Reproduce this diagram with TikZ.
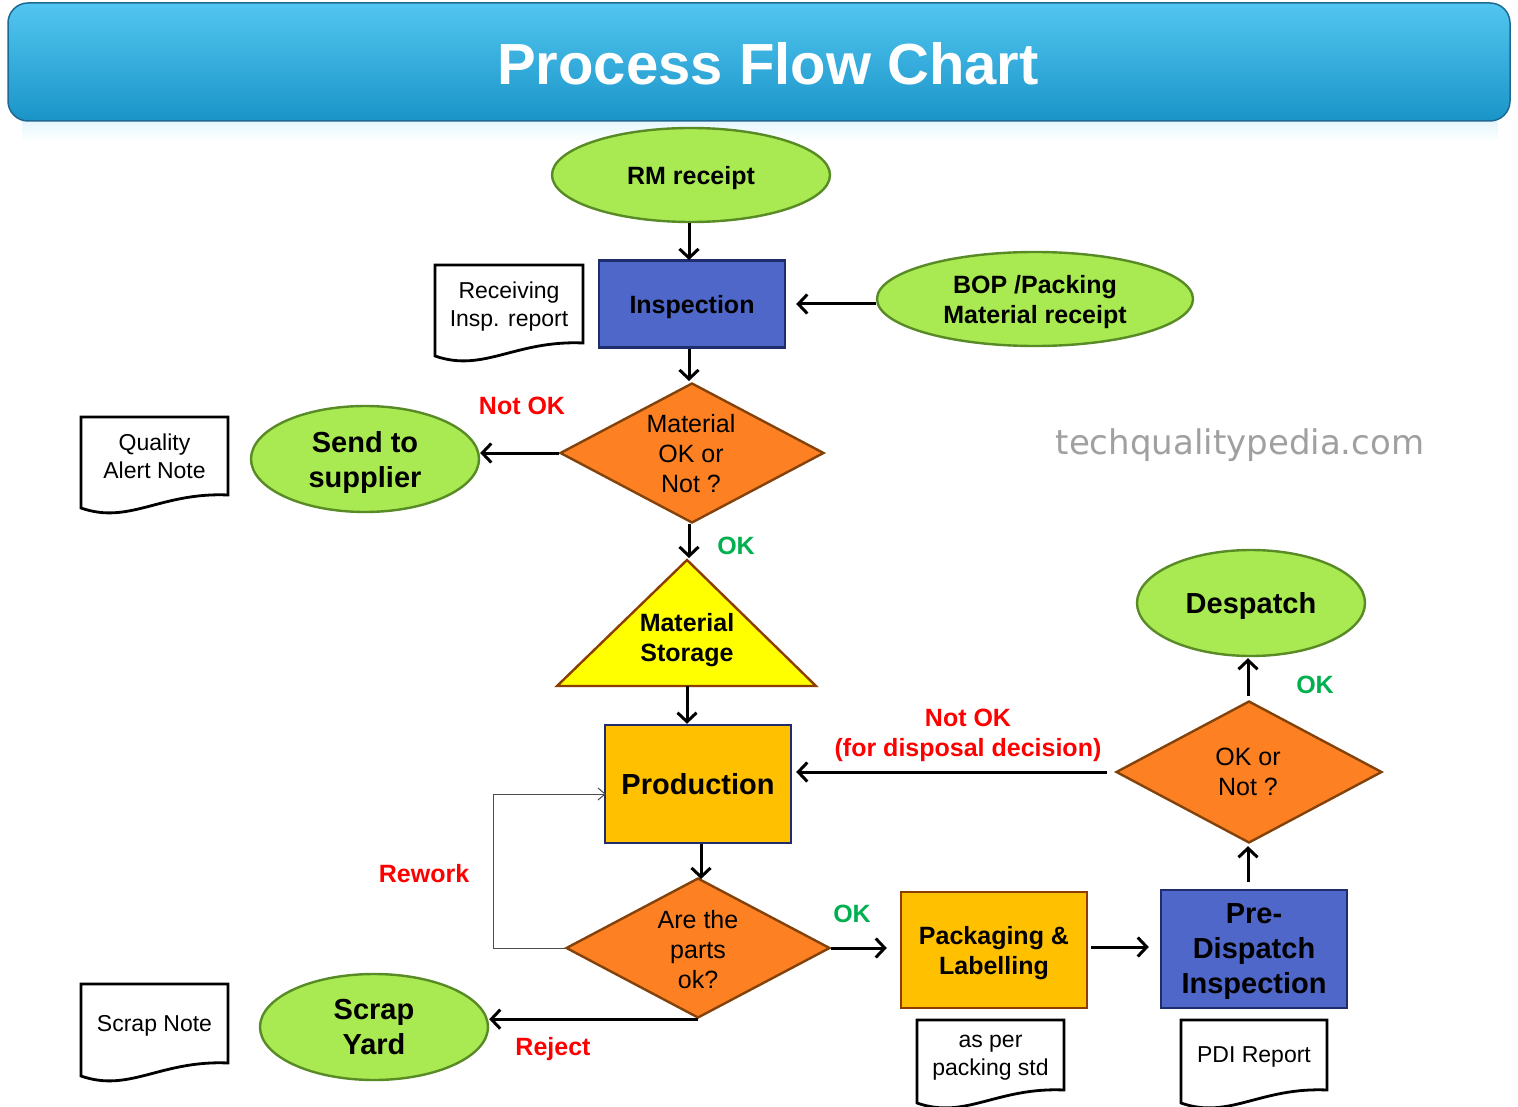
\documentclass[tikz,border=0pt]{standalone}
\usepackage{fontspec}
\setmainfont{Liberation Sans}
\newfontfamily\wmfont{DejaVu Sans}
\usetikzlibrary{shapes.geometric,arrows.meta,calc}
\definecolor{termfill}{RGB}{169,234,82}
\definecolor{termline}{RGB}{88,138,38}
\definecolor{bluefill}{RGB}{79,103,200}
\definecolor{navyline}{RGB}{31,44,110}
\definecolor{orfill}{RGB}{253,128,35}
\definecolor{orline}{RGB}{130,66,10}
\definecolor{goldfill}{RGB}{255,192,0}
\definecolor{brownline}{RGB}{140,62,0}
\definecolor{yelfill}{RGB}{255,255,0}
\definecolor{redtxt}{RGB}{255,0,0}
\definecolor{greentxt}{RGB}{0,176,80}
\definecolor{wmgray}{RGB}{160,160,160}
\definecolor{hdtop}{RGB}{82,198,240}
\definecolor{hdbot}{RGB}{26,148,200}
\definecolor{hdline}{RGB}{30,105,145}
\newcommand\fcdoc[6]{%
  \draw[docline] (#2,#3) -- (#4,#3) -- (#4,#5)
    .. controls ({#2+0.54*(#4-#2)},{#5-3}) and ({#2+0.33*(#4-#2)},{#5+30}) .. (#2,{#5+13}) -- cycle;
  \node[doctext] (#1) at ({(#2+#4)/2},{(#3+#5)/2}) {#6};
}
\begin{document}
\begin{tikzpicture}[x=1pt,y=-1pt,
  fA/.style={font=\fontsize{25}{30}\selectfont\bfseries, text depth=0pt},
  fB/.style={font=\fontsize{29}{35}\selectfont\bfseries, text depth=0pt},
  fR/.style={font=\fontsize{25}{30}\selectfont, text depth=0pt},
  term/.style={ellipse, draw=termline, fill=termfill, line width=2.4pt, inner sep=0pt, align=center},
  bluebox/.style={rectangle, draw=navyline, fill=bluefill, line width=2.4pt, inner sep=0pt, align=center},
  goldbox/.style={rectangle, draw=navyline, fill=goldfill, line width=2.4pt, inner sep=0pt, align=center},
  decision/.style={diamond, draw=orline, fill=orfill, line width=2.4pt, inner sep=0pt, minimum width=264pt, minimum height=140pt},
  doctext/.style={font=\fontsize{23}{28}\selectfont, align=center, inner sep=0pt, text depth=0pt},
  docline/.style={draw=black, line width=2.8pt, fill=white, line join=miter},
  flow/.style={draw=black, line width=3pt, -{Straight Barb[length=9pt,width=19pt]}},
  thinflow/.style={draw=black!70, line width=1pt, -{Straight Barb[length=7pt,width=12pt]}},
  redlbl/.style={font=\fontsize{25}{30}\selectfont\bfseries, text=redtxt, align=center, inner sep=0pt, text depth=0pt},
  grnlbl/.style={font=\fontsize{25}{30}\selectfont\bfseries, text=greentxt, inner sep=0pt, text depth=0pt}
]
\useasboundingbox (0,0) rectangle (1518,1107);
\fill[white] (0,0) rectangle (1518,1107);

% header
\shade[top color=hdtop!14, bottom color=white] (22,122) rectangle (1498,142);
\shade[draw=hdline, line width=1.5pt, rounded corners=20pt, top color=hdtop, bottom color=hdbot]
  (8,3) rectangle (1510,121);
\node[font=\fontsize{58}{60}\selectfont\bfseries, text=white, inner sep=0pt] (title) at (768,64) {Process Flow Chart};

% watermark
\node[font=\wmfont\fontsize{34}{40}\selectfont, text=wmgray, inner sep=0pt, text depth=0pt] (wm) at (1240,442) {techqualitypedia.com};

% terminals
\node[term, fA, minimum width=278pt, minimum height=94pt] (rm) at (691,175) {RM receipt};
\node[term, fA, minimum width=316pt, minimum height=94pt] (bop) at (1035,299) {BOP /Packing\\Material receipt};
\node[term, fB, minimum width=228pt, minimum height=106pt] (send) at (365,459) {Send to\\supplier};
\node[term, fB, minimum width=228pt, minimum height=106pt] (scrap) at (374,1027) {Scrap\\Yard};
\node[term, fB, minimum width=228pt, minimum height=106pt] (desp) at (1251,603) {Despatch};

% process boxes
\node[bluebox, fA, minimum width=186pt, minimum height=87pt] (insp) at (692,304) {Inspection};
\node[goldbox, fB, minimum width=186pt, minimum height=118pt] (prod) at (698,784) {Production};
\node[goldbox, draw=brownline, fA, minimum width=186pt, minimum height=116pt] (pack) at (994,950) {Packaging \&\\Labelling};
\node[bluebox, fB, minimum width=186pt, minimum height=118pt] (pdi) at (1254,949) {Pre-\\Dispatch\\Inspection};

% decisions
\node[decision] (d1) at (692,453) {};
\node[fR, align=center, inner sep=0pt] (d1t) at (691,453) {Material\\OK or\\Not ?};
\node[decision] (d2) at (698,948) {};
\node[fR, align=center, inner sep=0pt] (d2t) at (698,949) {Are the\\parts\\ok?};
\node[decision, minimum width=266pt, minimum height=142pt] (d3) at (1249,772) {};
\node[fR, align=center, inner sep=0pt] (d3t) at (1248,772) {OK or\\Not ?};

% storage triangle
\coordinate (stTop) at (687,560);
\coordinate (stBot) at (687,686);
\draw[draw=brownline, fill=yelfill, line width=2.4pt, line join=miter] (stTop) -- (816,686) -- (557,686) -- cycle;
\node[fA, align=center, inner sep=0pt] (st) at (687,637) {Material\\Storage};

% documents
\fcdoc{rir}{435}{265}{583}{343}{Receiving\\Insp. report}
\fcdoc{qan}{81}{417}{228}{495}{Quality\\Alert Note}
\fcdoc{sn}{81}{984}{228}{1063}{Scrap Note}
\fcdoc{aps}{917}{1020}{1064}{1090}{as per\\packing std}
\fcdoc{pdir}{1181}{1020}{1327}{1090}{PDI Report}

% connectors
\draw[flow] (rm.south -| 689,0) -- (689,260);
\draw[flow] (bop.west |- 0,304) -- ([xshift=10pt]insp.east);
\draw[flow] (insp.south -| 689,0) -- (689,381);
\draw[flow] (d1.west) -- (send.east |- d1.west);
\draw[flow] (d1.south -| 689,0) -- (689,558);
\draw[flow] (stBot) -- (prod.north -| stBot);
\draw[flow] (prod.south -| 701,0) -- (701,879);
\draw[flow, shorten >=13pt] (d2.east) -- (pack.west |- d2.east);
\draw[flow, shorten <=3pt, shorten >=11pt] (pack.east |- 0,947) -- (pdi.west |- 0,947);
\draw[flow, shorten <=7pt, shorten >=2pt] (pdi.north -| 1248,0) -- (d3.south -| 1248,0);
\draw[flow, shorten <=4pt, shorten >=1pt] (d3.north -| 1248,0) -- (desp.south -| 1248,0);
\draw[flow, shorten <=8pt, shorten >=4pt] (d3.west) -- (prod.east |- d3.west);
\draw[flow] (d2.south) -- (scrap.east |- d2.south);
\draw[thinflow, shorten >=-2pt] (d2.west) -- (493,948) -- (493,794) -- (prod.west |- 0,794);

% labels
\node[redlbl] (l1) at (522,406) {Not OK};
\node[grnlbl] (l2) at (736,546) {OK};
\node[redlbl] (l3) at (968,733) {Not OK\\(for disposal decision)};
\node[grnlbl] (l4) at (1315,685) {OK};
\node[redlbl] (l5) at (424,873) {Rework};
\node[grnlbl] (l6) at (852,914) {OK};
\node[redlbl] (l7) at (553,1046) {Reject};
\end{tikzpicture}
\end{document}
